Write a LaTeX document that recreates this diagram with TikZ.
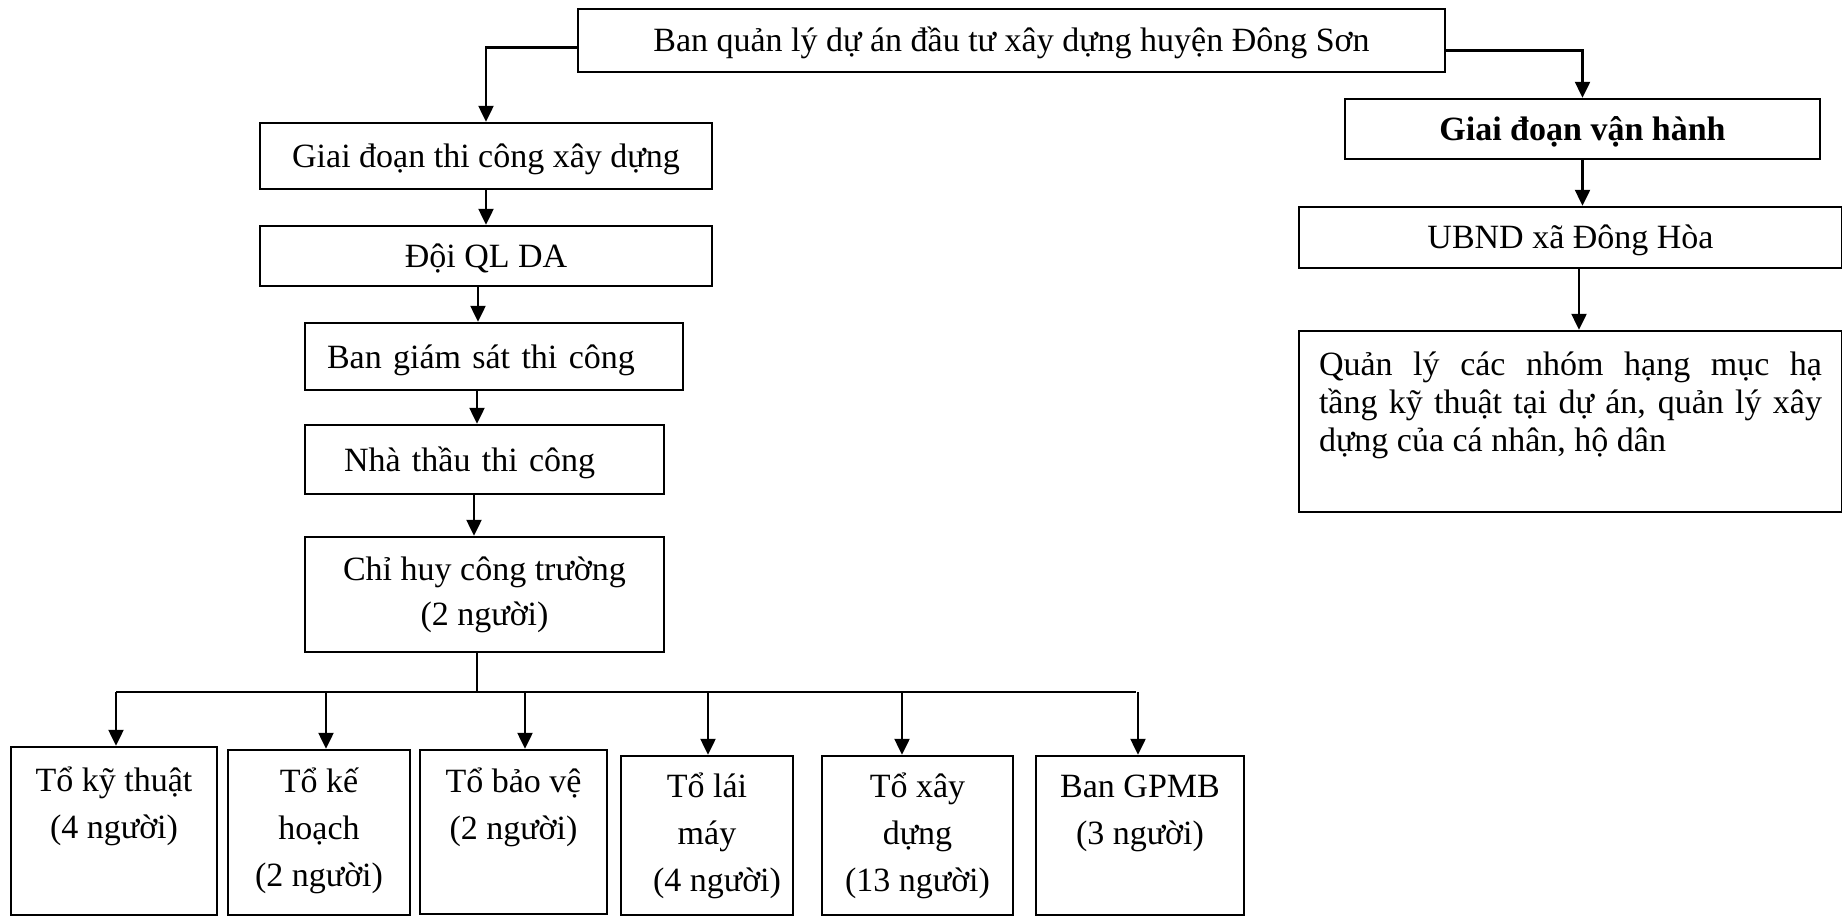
\documentclass[tikz,border=0pt]{standalone}
\usepackage{fontspec}
\setmainfont{Liberation Serif}
\usetikzlibrary{arrows.meta}
\newcommand{\TopBox}[4]{\parbox[c][#2][t]{#1}{\centering\rule{0pt}{#3}#4}}
\begin{document}
\begin{tikzpicture}[x=1pt,y=-1pt,
  box/.style={draw, line width=2.4pt, inner sep=0pt, font=\fontsize{34}{47}\selectfont},
  sbox/.style={box, text height=29pt, text depth=6pt},
  arr/.style={line width=2.3pt, -{Triangle[length=16pt,width=15pt]}},
  ln/.style={line width=2.3pt}]
\useasboundingbox (0,0) rectangle (1842,917);

% main
\node[sbox, minimum width=867pt, minimum height=63pt] (top) at (1011.5,40.5) {Ban quản lý dự án đầu tư xây dựng huyện Đông Sơn};

% left branch
\node[sbox, minimum width=452pt, minimum height=66pt] (g1) at (486,156) {Giai đoạn thi công xây dựng};
\node[sbox, minimum width=452pt, minimum height=60pt] (g2) at (486,256) {Đội QL DA};
\node[sbox, minimum width=378pt, minimum height=67pt, inner xsep=22pt, text width=334pt, align=left] (g3) at (494,356.5) {Ban giám sát thi công};
\node[sbox, minimum width=359pt, minimum height=69pt, inner xsep=39pt, text width=281pt, align=left] (g4) at (484.5,459.5) {Nhà thầu thi công};
\node[box] (g5) at (484.5,594.5) {\TopBox{359pt}{115pt}{43pt}{\fontsize{34}{45}\selectfont Chỉ huy công trường\\(2 người)}};

% right branch
\node[sbox, minimum width=475pt, minimum height=60pt] (r1) at (1582.5,129) {\textbf{Giai đoạn vận hành}};
\node[sbox, minimum width=543pt, minimum height=61pt] (r2) at (1570.5,237.5) {UBND xã Đông Hòa};
\node[box, inner xsep=20pt] (r3) at (1570.5,421.5) {\parbox[c][181pt][t]{503pt}{\fontsize{34}{38}\selectfont\hyphenpenalty=10000\rule{0pt}{44pt}Quản lý các nhóm hạng mục hạ\linebreak tầng kỹ thuật tại dự án, quản lý xây\linebreak dựng của cá nhân, hộ dân}};

% teams
\node[box] (t1) at (114,831) {\TopBox{206pt}{168pt}{44pt}{Tổ kỹ thuật\\(4 người)}};
\node[box] (t2) at (319,832.5) {\TopBox{182pt}{165pt}{42pt}{Tổ kế\\hoạch\\(2 người)}};
\node[box] (t3) at (513.5,832) {\TopBox{187pt}{164pt}{42pt}{Tổ bảo vệ\\(2 người)}};
\node[box] (t4) at (707,835.5) {\TopBox{172pt}{159pt}{41pt}{Tổ lái\\máy\\\hspace*{20pt}(4 người)}};
\node[box] (t5) at (917.5,835.5) {\TopBox{191pt}{159pt}{41pt}{Tổ xây\\dựng\\(13 người)}};
\node[box] (t6) at (1140,835.5) {\TopBox{208pt}{159pt}{41pt}{Ban GPMB\\(3 người)}};

% connectors
\draw[arr] ([yshift=-7pt]top.west) -| (g1.north);
\draw[arr] ([yshift=-10pt]top.east) -| (r1.north);
\draw[arr] (g1.south) -- (g2.north);
\draw[arr] ([xshift=-8pt]g2.south) -- ([xshift=-16pt]g3.north);
\draw[arr] ([xshift=-17pt]g3.south) -- ([xshift=-7.5pt]g4.north);
\draw[arr] ([xshift=-10.5pt]g4.south) -- ([xshift=-10.5pt]g5.north);
\draw[arr] (r1.south) -- ([xshift=12pt]r2.north);
\draw[arr] ([xshift=8.5pt]r2.south) -- ([xshift=8.5pt]r3.north);

\coordinate (bus) at (477,692);
\draw[ln] ([xshift=-7.5pt]g5.south) -- (bus);
\draw[ln] ([xshift=2pt]t1.north |- bus) -- ([xshift=-4pt]t6.north |- bus);
\draw[arr] ([xshift=2pt]t1.north |- bus) -- ([xshift=2pt]t1.north);
\draw[arr] ([xshift=7pt]t2.north |- bus) -- ([xshift=7pt]t2.north);
\draw[arr] ([xshift=11.5pt]t3.north |- bus) -- ([xshift=11.5pt]t3.north);
\draw[arr] ([xshift=1pt]t4.north |- bus) -- ([xshift=1pt]t4.north);
\draw[arr] ([xshift=-15.5pt]t5.north |- bus) -- ([xshift=-15.5pt]t5.north);
\draw[arr] ([xshift=-2pt]t6.north |- bus) -- ([xshift=-2pt]t6.north);
\end{tikzpicture}
\end{document}
